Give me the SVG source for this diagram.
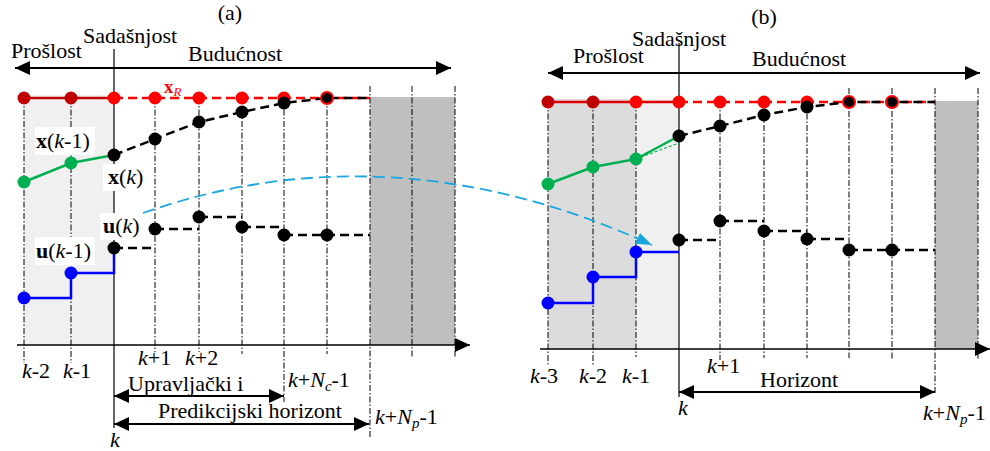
<svg xmlns="http://www.w3.org/2000/svg" width="990" height="451" viewBox="0 0 990 451" font-family="'Liberation Serif', 'Times New Roman', serif">
<defs>
<marker id="ah" markerUnits="userSpaceOnUse" markerWidth="16" markerHeight="14" refX="15" refY="7" orient="auto-start-reverse"><path d="M0,0 L15,7 L0,14 z" fill="#000"/></marker>
<marker id="ahc" markerUnits="userSpaceOnUse" markerWidth="18" markerHeight="14" refX="16" refY="6" orient="auto"><path d="M0,0 L16,6 L0,12 z" fill="#1aa7e0"/></marker>
<style>
text{font-family:'Liberation Serif','Times New Roman',serif;font-size:22px;fill:#000}
.i{font-style:italic}
.b{font-weight:bold}
.dd{stroke:#000;stroke-width:1;stroke-dasharray:6 2 1.5 2;fill:none}
.now{stroke:#000;stroke-width:1.2;fill:none}
.ax{stroke:#000;stroke-width:1.5;fill:none}
.arr{stroke:#000;stroke-width:2;fill:none;marker-start:url(#ah);marker-end:url(#ah)}
.rs{stroke:#c00000;stroke-width:2.5;fill:none}
.rd{stroke:#ff0000;stroke-width:2.5;stroke-dasharray:9 5;fill:none}
.kd{stroke:#000;stroke-width:2.5;stroke-dasharray:9 5;fill:none}
.gs{stroke:#00b050;stroke-width:2.5;fill:none}
.bs{stroke:#0000ff;stroke-width:2.5;fill:none}
.dr{fill:#c00000}
.r{fill:#ff0000}
.k{fill:#000}
.g{fill:#00b050}
.bl{fill:#0000ff}
.kr{fill:#000;stroke:#ff0000;stroke-width:2}
.wb{fill:#fff}
</style>
</defs>

<g id="panel-a">
<g id="a-background">
<rect x="24" y="95" width="90" height="250" fill="#f0f0f0"/>
<rect x="370" y="97" width="85" height="248" fill="#bfbfbf"/>
</g>
<g id="a-gridlines">
<line class="dd" x1="24" y1="98" x2="24" y2="363"/>
<line class="dd" x1="71" y1="98" x2="71" y2="363"/>
<line class="dd" x1="155" y1="98" x2="155" y2="352"/>
<line class="dd" x1="199" y1="98" x2="199" y2="352"/>
<line class="dd" x1="242" y1="98" x2="242" y2="354"/>
<line class="dd" x1="284" y1="98" x2="284" y2="402"/>
<line class="dd" x1="327" y1="98" x2="327" y2="354"/>
<line class="dd" x1="370" y1="86" x2="370" y2="437"/>
<line class="dd" x1="412" y1="86" x2="412" y2="357"/>
<line class="dd" x1="455" y1="86" x2="455" y2="357"/>
<line class="now" x1="114" y1="49" x2="114" y2="428"/>
</g>
<g id="a-axes">
<line class="ax" x1="17" y1="345" x2="470" y2="345" marker-end="url(#ah)"/>
<line class="arr" x1="15" y1="68" x2="451" y2="68"/>
</g>
<g id="a-titles">
<text x="230" y="20" text-anchor="middle">(a)</text>
<text x="83" y="43">Sadašnjost</text>
<text x="11" y="58">Prošlost</text>
<text x="188" y="61">Budućnost</text>
</g>
<g id="a-reference">
<line class="rs" x1="24" y1="98" x2="114" y2="98"/>
<line class="rd" x1="114" y1="98" x2="370" y2="98"/>
<circle class="dr" cx="24" cy="98" r="6.5"/>
<circle class="dr" cx="71" cy="98" r="6.5"/>
<circle class="r" cx="114" cy="98" r="6.5"/>
<circle class="r" cx="155" cy="98" r="6.5"/>
<circle class="r" cx="199" cy="98" r="6.5"/>
<circle class="r" cx="242" cy="98" r="6.5"/>
<circle class="r" cx="284" cy="98" r="6.5"/>
<text x="164" y="93" class="b" style="fill:#ff0000;font-size:19px">x<tspan class="i" style="font-weight:normal;font-size:13px" dy="3">R</tspan></text>
</g>
<g id="a-state">
<polyline class="gs" points="24,182 71,163 114,155"/>
<circle class="g" cx="24" cy="182" r="6.5"/>
<circle class="g" cx="71" cy="163" r="6.5"/>
<polyline class="kd" points="114,155 155,139 199,122 242,112 284,103 327,98 370,98"/>
<circle class="k" cx="114" cy="155" r="6.5"/>
<circle class="k" cx="155" cy="139" r="6.5"/>
<circle class="k" cx="199" cy="122" r="6.5"/>
<circle class="k" cx="242" cy="112" r="6.5"/>
<circle class="k" cx="284" cy="103" r="6.5"/>
<circle class="kr" cx="327" cy="98" r="6"/>
</g>
<g id="a-input">
<polyline class="bs" points="24,298 71,298 71,273 114,273 114,250"/>
<circle class="bl" cx="24" cy="298" r="6.5"/>
<circle class="bl" cx="71" cy="273" r="6.5"/>
<path class="kd" d="M114,248 H155 M155,229 H199 M199,217 H242 M242,227 H284 M284,235 H370"/>
<circle class="k" cx="114" cy="248" r="6.5"/>
<circle class="k" cx="155" cy="229" r="6.5"/>
<circle class="k" cx="199" cy="217" r="6.5"/>
<circle class="k" cx="242" cy="227" r="6.5"/>
<circle class="k" cx="284" cy="235" r="6.5"/>
<circle class="k" cx="327" cy="235" r="6.5"/>
</g>
<g id="a-labels">
<rect class="wb" x="35" y="127" width="60" height="28"/>
<text x="36" y="148"><tspan class="b">x</tspan>(<tspan class="i">k</tspan>-1)</text>
<rect class="wb" x="103" y="164" width="43" height="27"/>
<text x="108" y="184"><tspan class="b">x</tspan>(<tspan class="i">k</tspan>)</text>
<rect class="wb" x="100" y="213" width="42" height="27"/>
<text x="103" y="233"><tspan class="b">u</tspan>(<tspan class="i">k</tspan>)</text>
<rect class="wb" x="35" y="237" width="60" height="28"/>
<text x="36" y="258"><tspan class="b">u</tspan>(<tspan class="i">k</tspan>-1)</text>
</g>
<g id="a-ticks">
<text x="22" y="378"><tspan class="i">k</tspan>-2</text>
<text x="63" y="378"><tspan class="i">k</tspan>-1</text>
<text x="138" y="365"><tspan class="i">k</tspan>+1</text>
<text x="185" y="365"><tspan class="i">k</tspan>+2</text>
<text x="288" y="387"><tspan class="i">k</tspan>+<tspan class="i">N</tspan><tspan class="i" style="font-size:15px" dy="4">c</tspan><tspan dy="-4">-1</tspan></text>
<text x="375" y="424"><tspan class="i">k</tspan>+<tspan class="i">N</tspan><tspan class="i" style="font-size:15px" dy="4">p</tspan><tspan dy="-4">-1</tspan></text>
<text x="110" y="447" class="i">k</text>
</g>
<g id="a-horizons">
<text x="128" y="391">Upravljački i</text>
<line class="arr" x1="114" y1="396" x2="284" y2="396"/>
<text x="158" y="418">Predikcijski horizont</text>
<line class="arr" x1="114" y1="424" x2="369" y2="424"/>
</g>
</g>

<g id="panel-b">
<g id="b-background">
<rect x="548" y="99" width="88" height="250" fill="#dcdcdc"/>
<rect x="636" y="99" width="43" height="250" fill="#f0f0f0"/>
<rect x="935" y="101" width="43" height="248" fill="#bfbfbf"/>
</g>
<g id="b-gridlines">
<line class="dd" x1="548" y1="102" x2="548" y2="365"/>
<line class="dd" x1="593" y1="102" x2="593" y2="365"/>
<line class="dd" x1="636" y1="102" x2="636" y2="357"/>
<line class="dd" x1="720" y1="102" x2="720" y2="360"/>
<line class="dd" x1="764" y1="102" x2="764" y2="358"/>
<line class="dd" x1="807" y1="102" x2="807" y2="358"/>
<line class="dd" x1="849" y1="88" x2="849" y2="358"/>
<line class="dd" x1="892" y1="88" x2="892" y2="360"/>
<line class="dd" x1="935" y1="88" x2="935" y2="393"/>
<line class="dd" x1="978" y1="88" x2="978" y2="360"/>
<line class="now" x1="679" y1="43" x2="679" y2="397"/>
</g>
<g id="b-axes">
<line class="ax" x1="540" y1="349" x2="990" y2="349" marker-end="url(#ah)"/>
<line class="arr" x1="548" y1="73" x2="980" y2="73"/>
</g>
<g id="b-titles">
<text x="764" y="24" text-anchor="middle">(b)</text>
<text x="632" y="46">Sadašnjost</text>
<text x="573" y="63">Prošlost</text>
<text x="752" y="66">Budućnost</text>
</g>
<g id="b-reference">
<line x1="548" y1="102" x2="679" y2="102" stroke="#e00000" stroke-width="2.5"/>
<line class="rd" x1="679" y1="102" x2="935" y2="102"/>
<circle class="dr" cx="548" cy="102" r="6.5"/>
<circle class="dr" cx="593" cy="102" r="6.5"/>
<circle class="r" cx="636" cy="102" r="6.5"/>
<circle class="r" cx="679" cy="102" r="6.5"/>
<circle class="r" cx="720" cy="102" r="6.5"/>
<circle class="r" cx="764" cy="102" r="6.5"/>
<circle class="r" cx="807" cy="102" r="6.5"/>
</g>
<g id="b-state">
<polyline class="gs" points="548,184 593,167 636,159 679,136"/>
<line x1="636" y1="159" x2="679" y2="143" stroke="#00b050" stroke-width="1.2" stroke-dasharray="3 2"/>
<circle class="g" cx="548" cy="184" r="6.5"/>
<circle class="g" cx="593" cy="167" r="6.5"/>
<circle class="g" cx="636" cy="159" r="6.5"/>
<polyline class="kd" points="679,136 720,126 764,115 807,107 849,102 892,102 935,102"/>
<circle class="k" cx="679" cy="136" r="6.5"/>
<circle class="k" cx="720" cy="126" r="6.5"/>
<circle class="k" cx="764" cy="115" r="6.5"/>
<circle class="k" cx="807" cy="107" r="6.5"/>
<circle class="kr" cx="849" cy="102" r="6"/>
<circle class="kr" cx="892" cy="102" r="6"/>
</g>
<g id="b-input">
<polyline class="bs" points="548,303 593,303 593,277 636,277 636,252 679,252"/>
<circle class="bl" cx="548" cy="303" r="6.5"/>
<circle class="bl" cx="593" cy="277" r="6.5"/>
<circle class="bl" cx="636" cy="252" r="6.5"/>
<path class="kd" d="M679,240 H720 M720,221 H764 M764,231 H807 M807,239 H849 M849,250 H935"/>
<circle class="k" cx="679" cy="240" r="6.5"/>
<circle class="k" cx="720" cy="221" r="6.5"/>
<circle class="k" cx="764" cy="231" r="6.5"/>
<circle class="k" cx="807" cy="239" r="6.5"/>
<circle class="k" cx="849" cy="250" r="6.5"/>
<circle class="k" cx="892" cy="250" r="6.5"/>
</g>
<g id="b-ticks">
<text x="530" y="383"><tspan class="i">k</tspan>-3</text>
<text x="579" y="383"><tspan class="i">k</tspan>-2</text>
<text x="622" y="383"><tspan class="i">k</tspan>-1</text>
<text x="707" y="373"><tspan class="i">k</tspan>+1</text>
<text x="678" y="415" class="i">k</text>
<text x="923" y="420"><tspan class="i">k</tspan>+<tspan class="i">N</tspan><tspan class="i" style="font-size:15px" dy="4">p</tspan><tspan dy="-4">-1</tspan></text>
</g>
<g id="b-horizon">
<text x="760" y="387">Horizont</text>
<line class="arr" x1="679" y1="392" x2="935" y2="392"/>
</g>
</g>

<g id="connectors">
<path d="M143,213 C300,158 470,162 652,245" fill="none" stroke="#1aa7e0" stroke-width="1.8" stroke-dasharray="12 6" marker-end="url(#ahc)"/>
</g>
</svg>
